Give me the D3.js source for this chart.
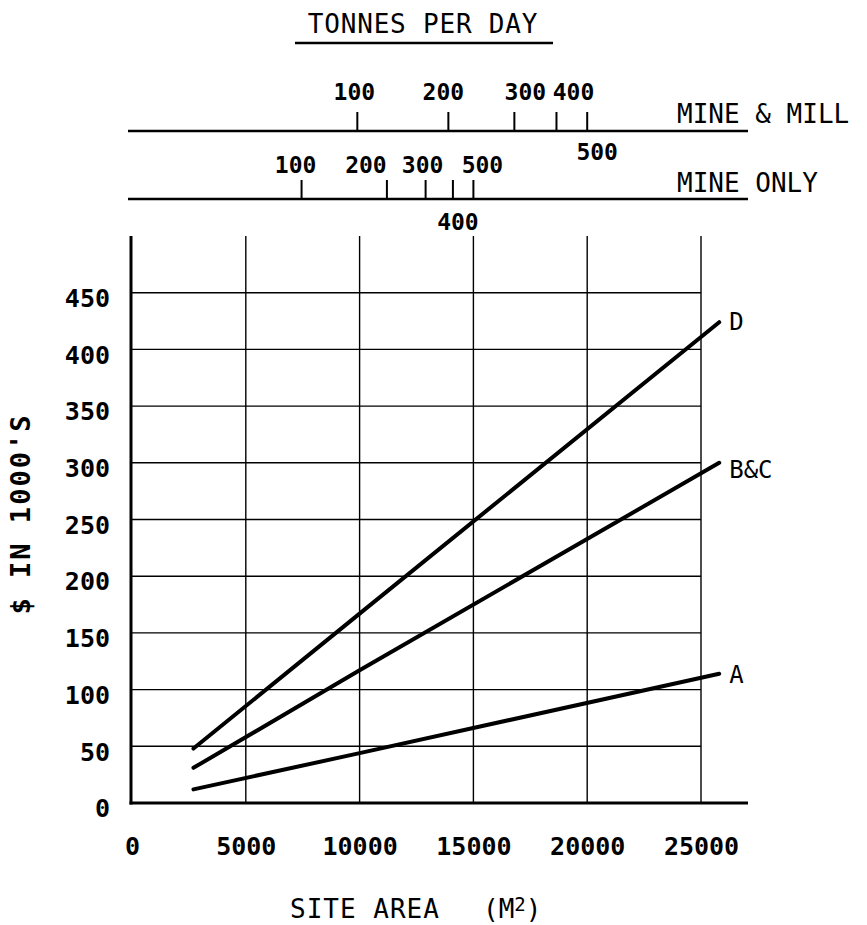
<!DOCTYPE html>
<html>
<head>
<meta charset="utf-8">
<script src="https://cdn.jsdelivr.net/npm/d3@7"></script>
<style>
  html, body { margin: 0; padding: 0; background: #fff; }
  svg { display: block; }
  text { font-family: "DejaVu Sans Mono", "Liberation Mono", monospace; fill: #000; }
</style>
</head>
<body>
<script>
// ---- data ----
const siteAreaTicks = [0, 5000, 10000, 15000, 20000, 25000];
const costTicks = [0, 50, 100, 150, 200, 250, 300, 350, 400, 450];

// cost curves ($1000's) against site area (m²)
const seriesNames = ["D", "B&C", "A"];
const seriesArea  = [2700, 10000, 25800];
const seriesD     = [48, 167, 424];
const seriesBC    = [31, 117, 300];
const seriesA     = [12, 44, 114];

// tonnes-per-day scales, as site area equivalents
const millTonnes = [100, 200, 300, 400, 500];
const millArea   = [9900, 13900, 16800, 18650, 20000];
const mineTonnes = [100, 200, 300, 400, 500];
const mineArea   = [7450, 11200, 12900, 14100, 15000];

// ---- layout ----
const W = 867, H = 925;
const svg = d3.select("body").append("svg").attr("width", W).attr("height", H);

const x = d3.scaleLinear().domain([0, 25000]).range([132, 701]);
const y = d3.scaleLinear().domain([0, 500]).range([803, 236]);

const digitSize = 25;
const digitWeight = "bold";

// grid
const grid = svg.append("g").attr("stroke", "#000").attr("stroke-width", 1.4).attr("fill", "none");
grid.selectAll("line.v").data(siteAreaTicks.slice(1)).join("line")
  .attr("x1", d => x(d)).attr("x2", d => x(d))
  .attr("y1", y(500)).attr("y2", y(0));
grid.selectAll("line.h").data(costTicks.slice(1)).join("line")
  .attr("x1", x(0)).attr("x2", x(25000))
  .attr("y1", d => y(d)).attr("y2", d => y(d));

// main axis lines
svg.append("line").attr("x1", 131).attr("x2", 131).attr("y1", y(500)).attr("y2", y(0) + 1.5)
  .attr("stroke", "#000").attr("stroke-width", 3);
svg.append("line").attr("x1", 129.5).attr("x2", 748).attr("y1", y(0)).attr("y2", y(0))
  .attr("stroke", "#000").attr("stroke-width", 3);

// y tick labels
const yAxis = svg.append("g").attr("transform", "translate(131,0)")
  .call(d3.axisLeft(y).tickValues(costTicks).tickSize(0).tickPadding(21));
yAxis.select(".domain").remove();
yAxis.selectAll("text").attr("dy", "0.55em")
  .style("font-family", "DejaVu Sans Mono, Liberation Mono, monospace")
  .style("font-size", digitSize + "px").style("font-weight", digitWeight);

// x tick labels
const xAxis = svg.append("g").attr("transform", `translate(0,${y(0)})`)
  .call(d3.axisBottom(x).tickValues(siteAreaTicks).tickSize(0).tickPadding(34).tickFormat(d3.format("d")));
xAxis.select(".domain").remove();
xAxis.selectAll("text")
  .style("font-family", "DejaVu Sans Mono, Liberation Mono, monospace")
  .style("font-size", digitSize + "px").style("font-weight", digitWeight);

// axis titles
svg.append("text").attr("x", 290).attr("y", 918)
  .style("font-size", "26px").style("letter-spacing", "1px").text("SITE AREA");
const xUnit = svg.append("text").attr("x", 483).attr("y", 918).style("font-size", "26px");
xUnit.append("tspan").text("(M");
xUnit.append("tspan").attr("dy", -7).style("font-size", "19px").text("2");
xUnit.append("tspan").attr("dy", 7).text(")");

svg.append("text")
  .attr("transform", "translate(30,514) rotate(-90)")
  .attr("text-anchor", "middle")
  .style("font-size", "27px").style("font-weight", "bold").style("letter-spacing", "2px")
  .text("$ IN 1000'S");

// cost curves
const line = d3.line().x(d => x(d[0])).y(d => y(d[1]));
const seriesValues = [seriesD, seriesBC, seriesA];
const labelDy = [0, 7, 1];
seriesValues.forEach((vals, i) => {
  const pts = seriesArea.map((a, j) => [a, vals[j]]);
  svg.append("path").datum(pts).attr("d", line)
    .attr("fill", "none").attr("stroke", "#000").attr("stroke-width", 4)
    .attr("stroke-linecap", "round");
  const last = pts[pts.length - 1];
  svg.append("text")
    .attr("x", x(last[0]) + 10).attr("y", y(last[1]) + labelDy[i] + 8)
    .style("font-size", "24px").text(seriesNames[i]);
});

// tonnes-per-day header
svg.append("text").attr("x", 423).attr("y", 33).attr("text-anchor", "middle")
  .style("font-size", "26px").style("letter-spacing", "0.8px").text("TONNES PER DAY");
svg.append("line").attr("x1", 295).attr("x2", 553).attr("y1", 43).attr("y2", 43)
  .attr("stroke", "#000").attr("stroke-width", 2.5);

function tonnesAxis(lineY, tonnes, areas, labelShift, below, aboveGap, belowGap, name, nameY) {
  const toArea = d3.scaleLinear().domain(tonnes).range(areas);
  svg.append("line").attr("x1", 128).attr("x2", 748).attr("y1", lineY).attr("y2", lineY)
    .attr("stroke", "#000").attr("stroke-width", 2.5);
  svg.selectAll(null).data(tonnes).join("line")
    .attr("x1", d => x(toArea(d))).attr("x2", d => x(toArea(d)))
    .attr("y1", lineY - 19).attr("y2", lineY)
    .attr("stroke", "#000").attr("stroke-width", 2);
  svg.selectAll(null).data(tonnes).join("text")
    .attr("x", (d, i) => x(toArea(d)) + labelShift[i])
    .attr("y", (d, i) => below[i] ? lineY + belowGap : lineY - aboveGap)
    .attr("text-anchor", "middle")
    .style("font-size", "23px").style("font-weight", digitWeight)
    .text(d => d);
  svg.append("text").attr("x", 677).attr("y", nameY)
    .style("font-size", "26px").text(name);
}
tonnesAxis(131, millTonnes, millArea, [-3, -5, 11, 17, 10], [false, false, false, false, true], 31, 29, "MINE & MILL", 123);
tonnesAxis(199, mineTonnes, mineArea, [-6, -21, -3, 5, 9], [false, false, false, true, false], 26, 31, "MINE ONLY", 192);
</script>
</body>
</html>
